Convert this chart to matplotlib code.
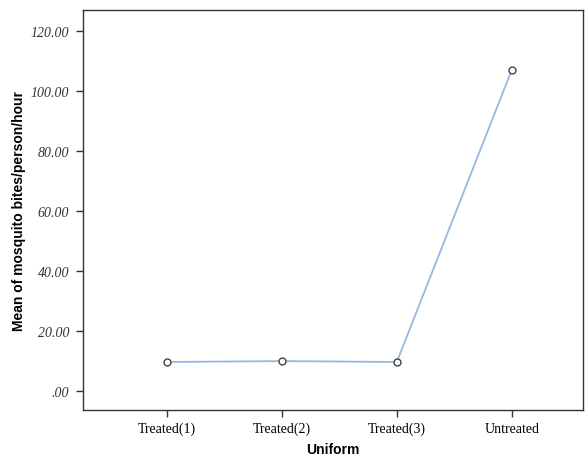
import matplotlib
matplotlib.use('Agg')
import matplotlib.pyplot as plt

groups = ['Treated(1)', 'Treated(2)', 'Treated(3)', 'Untreated']
mean_bites = [9.7, 10.0, 9.7, 107.0]
yticks = [0, 20, 40, 60, 80, 100, 120]
ytick_labels = ['.00', '20.00', '40.00', '60.00', '80.00', '100.00', '120.00']

fig = plt.figure(figsize=(5.87, 4.56), dpi=100)
ax = fig.add_axes([83 / 587, 45 / 456, 500 / 587, 400 / 456])

x = range(len(groups))
ax.plot(x, mean_bites, color='#94b8e0', lw=1.3, marker='o', ms=5,
        mfc='white', mec='#444444', mew=1.0, zorder=3)

ax.set_xlim(-0.73, 3.62)
ax.set_ylim(-6.3, 127)
ax.set_xticks(list(x))
ax.set_xticklabels(groups, family='Liberation Serif', fontsize=10)
ax.set_yticks(yticks)
ax.set_yticklabels(ytick_labels, family='Liberation Serif', style='italic', fontsize=10, color='#333333')

for s in ax.spines.values():
    s.set_color('#333333')
    s.set_linewidth(1.0)
ax.tick_params(direction='out', length=5, width=1.0, color='#333333')
ax.tick_params(axis='y', pad=5)

ax.set_xlabel('Uniform', family='Liberation Sans', fontweight='bold', fontsize=10, labelpad=4.5)
ax.set_ylabel('Mean of mosquito bites/person/hour', family='Liberation Sans', fontweight='bold',
              fontsize=10, labelpad=3)

fig.savefig('out.png', dpi=100)
